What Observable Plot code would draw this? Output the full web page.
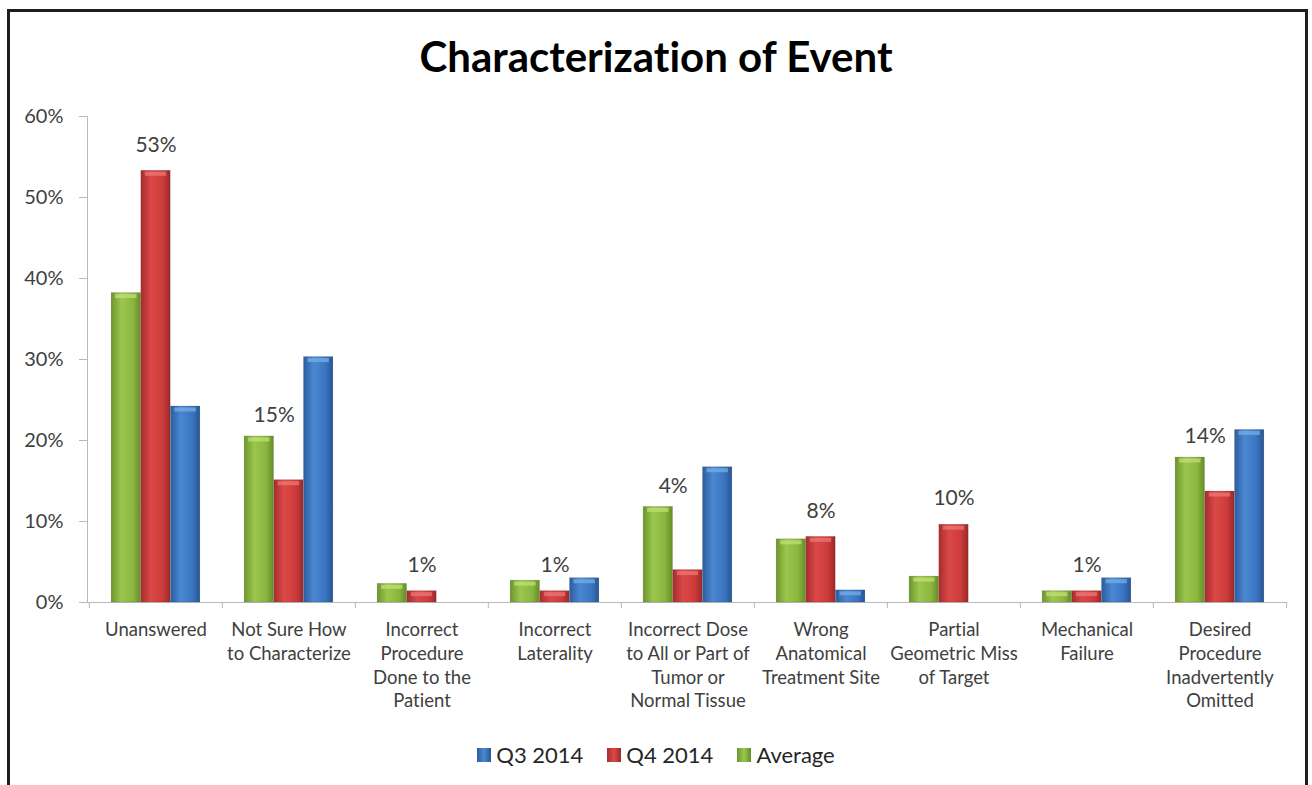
<!DOCTYPE html>
<html>
<head>
<meta charset="utf-8">
<script src="https://cdn.jsdelivr.net/npm/d3@7"></script>
<script src="https://cdn.jsdelivr.net/npm/@observablehq/plot@0.6"></script>
<style>
  html, body { margin: 0; padding: 0; background: #fff; }
  body { width: 1312px; height: 785px; overflow: hidden; position: relative; font-family: Lato, "Open Sans", sans-serif; font-variant-ligatures: none; }
  #frame { position: absolute; left: 7px; top: 9px; width: 1301px; height: 820px; border: 3px solid #1e1e1e; border-bottom: none; box-sizing: border-box; }
  #title { position: absolute; top: 31px; left: 0; width: 1312px; text-align: center; font-weight: 700; font-size: 42px; color: #000; line-height: 50px; font-variant-ligatures: none; }
  #chart { position: absolute; left: 0; top: 100px; }
  #chart svg text { font-variant-ligatures: none; }
  #legend { position: absolute; top: 741px; left: 0; width: 1312px; display: flex; justify-content: center; align-items: center; font-size: 22px; color: #262626; }
  .item { display: flex; align-items: center; margin: 0 12px; }
  .sw { width: 14px; height: 14px; margin-right: 5px; }
</style>
</head>
<body>
<div id="frame"></div>
<div id="title">Characterization of Event</div>
<div id="chart"></div>
<div id="legend"></div>
<script>
// ---- data ----
const categories = [
  "Unanswered",
  "Not Sure How\nto Characterize",
  "Incorrect\nProcedure\nDone to the\nPatient",
  "Incorrect\nLaterality",
  "Incorrect Dose\nto All or Part of\nTumor or\nNormal Tissue",
  "Wrong\nAnatomical\nTreatment Site",
  "Partial\nGeometric Miss\nof Target",
  "Mechanical\nFailure",
  "Desired\nProcedure\nInadvertently\nOmitted"
];
const seriesNames = ["Average", "Q4 2014", "Q3 2014"];
const average = [38.2, 20.5, 2.3, 2.7, 11.8, 7.8, 3.2, 1.4, 17.9];
const q4_2014 = [53.3, 15.1, 1.4, 1.4, 4.0, 8.1, 9.6, 1.4, 13.7];
const q3_2014 = [24.2, 30.3, 0, 3.0, 16.7, 1.5, 0, 3.0, 21.3];
const q4Labels = ["53%", "15%", "1%", "1%", "4%", "8%", "10%", "1%", "14%"];
const yTicks = [0, 10, 20, 30, 40, 50, 60];
const legendOrder = ["Q3 2014", "Q4 2014", "Average"];

// ---- layout ----
const W = 1312, H = 640, mL = 87, mR = 25, mT = 16, mB = 138;
const step = (W - mL - mR) / categories.length;
const barW = 29.7;
const groupInset = (step - 3 * barW) / 2;

const rows = (vals) => categories.map((c, i) => ({cat: c, value: vals[i], avg: average[i], q4: q4_2014[i], label: q4Labels[i]}));
const avgRows = rows(average);
const q4Rows = rows(q4_2014);
const q3Rows = rows(q3_2014).filter(d => d.value > 0);

// labels: above Q4 bar, or moved above the average bar when the Q4 bar is much shorter
const labelRows = q4Rows.filter(d => d.avg - d.value <= 2);
const movedRows = q4Rows.filter(d => d.avg - d.value > 2);

const axisGrey = "#b9b9b9";
const textGrey = "#404040";

const insets = (k) => ({insetLeft: groupInset + k * barW, insetRight: step - groupInset - (k + 1) * barW});

const barSpec = (data, k, fillId, hi) => [
  Plot.barY(data, {
    x: "cat", y: "value", fill: `url(#${fillId})`, ...insets(k),
    stroke: "rgba(0,0,0,0.18)", strokeWidth: 0.6
  }),
  Plot.tickY(data, {
    x: "cat", y: "value", stroke: hi, strokeOpacity: 0.7, strokeWidth: 4, dy: 3,
    insetLeft: groupInset + k * barW + 4, insetRight: step - groupInset - (k + 1) * barW + 4
  })
];

const plot = Plot.plot({
  width: W, height: H,
  marginLeft: mL, marginRight: mR, marginTop: mT, marginBottom: mB,
  style: {fontFamily: "Lato, 'Open Sans', sans-serif", background: "transparent", overflow: "visible"},
  x: {type: "band", domain: categories, padding: 0, axis: null},
  y: {domain: [0, 60], axis: null},
  marks: [
    Plot.frame({anchor: "left", stroke: axisGrey}),
    Plot.axisY({ticks: yTicks, tickSize: 8, tickFormat: () => "", stroke: axisGrey}),
    Plot.axisY({ticks: yTicks, tickSize: 0, tickPadding: 24, tickFormat: d => d + "%", fontSize: 20, fill: textGrey}),
    Plot.ruleY([0], {stroke: axisGrey, strokeWidth: 1.2}),
    Plot.ruleX(categories, {x: d => d, y1: 0, y2: -0.75, dx: -step / 2, stroke: axisGrey}),
    Plot.ruleX(categories.slice(-1), {x: d => d, y1: 0, y2: -0.75, dx: step / 2, stroke: axisGrey}),
    barSpec(avgRows, 0, "gGreen", "#c4e27a"),
    barSpec(q4Rows, 1, "gRed", "#f07a7a"),
    barSpec(q3Rows, 2, "gBlue", "#7ab0ea"),
    Plot.text(labelRows, {x: "cat", y: "value", text: "label", dy: -26, fontSize: 21, fill: textGrey}),
    Plot.text(movedRows, {x: "cat", y: "avg", text: "label", dy: -21, dx: -barW / 2, fontSize: 21, fill: textGrey}),
    Plot.text(categories, {x: d => d, y: 0, text: d => d, dy: 17, lineAnchor: "top", lineHeight: 1.28, fontSize: 18.5, fill: textGrey})
  ]
});

// gradient definitions for the bevelled Excel-style bars
const defs = d3.select(plot).insert("defs", ":first-child");
const grads = {
  gGreen: ["#6c962c", "#9cc74e", "#8ab63f", "#648c28"],
  gRed:   ["#a62d2d", "#dc4848", "#cc3b3b", "#9c2828"],
  gBlue:  ["#2c5c9e", "#4a88d2", "#3a74c0", "#285692"]
};
for (const [id, c] of Object.entries(grads)) {
  const g = defs.append("linearGradient").attr("id", id).attr("x1", 0).attr("x2", 1).attr("y1", 0).attr("y2", 0);
  g.append("stop").attr("offset", "0%").attr("stop-color", c[0]);
  g.append("stop").attr("offset", "35%").attr("stop-color", c[1]);
  g.append("stop").attr("offset", "75%").attr("stop-color", c[2]);
  g.append("stop").attr("offset", "100%").attr("stop-color", c[3]);
}
document.getElementById("chart").appendChild(plot);

// legend
const swatch = {"Q3 2014": "linear-gradient(90deg,#2c5c9e,#4a88d2,#285692)", "Q4 2014": "linear-gradient(90deg,#a62d2d,#dc4848,#9c2828)", "Average": "linear-gradient(90deg,#6c962c,#9cc74e,#648c28)"};
const legend = d3.select("#legend");
for (const name of legendOrder) {
  const it = legend.append("div").attr("class", "item");
  it.append("div").attr("class", "sw").style("background", swatch[name]);
  it.append("span").text(name);
}
</script>
</body>
</html>
